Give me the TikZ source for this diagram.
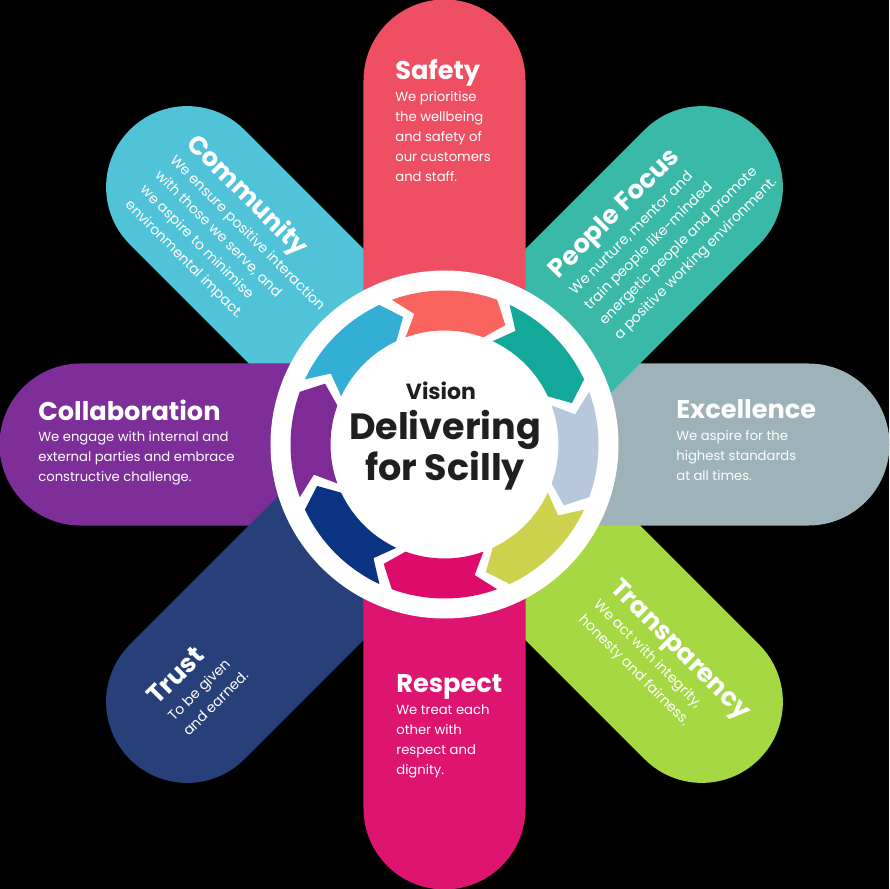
\documentclass[tikz,border=0pt]{standalone}
\usepackage{fontspec}
\setmainfont{Poppins}

\definecolor{safety}{HTML}{EF4F63}
\definecolor{people}{HTML}{3AB9A9}
\definecolor{excellence}{HTML}{9DB2B9}
\definecolor{transparency}{HTML}{A6D843}
\definecolor{respect}{HTML}{DD1470}
\definecolor{trust}{HTML}{28407A}
\definecolor{collaboration}{HTML}{7D2E99}
\definecolor{community}{HTML}{50C3D8}

\definecolor{arrowcoral}{HTML}{F9655E}
\definecolor{arrowteal}{HTML}{12A99A}
\definecolor{arrowsteel}{HTML}{B7C8DC}
\definecolor{arrowolive}{HTML}{CCD24D}
\definecolor{arrowmagenta}{HTML}{DE0B6B}
\definecolor{arrownavy}{HTML}{0A3482}
\definecolor{arrowpurple}{HTML}{7E2B98}
\definecolor{arrowcyan}{HTML}{33AFD6}
\definecolor{hubgrey}{HTML}{1F1F1F}

\newcommand{\petaltitle}[1]{{\fontsize{14.6}{16}\selectfont\bfseries #1}}

\begin{document}
\begin{tikzpicture}[x=0.02cm, y=0.02cm,
	petaltext/.style={text=white, align=left, inner sep=0pt, anchor=north west, font=\fontsize{8}{12}\selectfont},
	straighttext/.style={petaltext, font=\fontsize{7.5}{11.4}\selectfont},
	hubtext/.style={text=hubgrey, anchor=base, inner sep=0pt, font=\bfseries\fontsize{20.8}{22}\selectfont}]
	
	\useasboundingbox (-444.5,-444.5) rectangle (444.5,444.5);
	
	\fill[black] (-444.5,-444.5) rectangle (444.5,444.5);
	
	\fill[community, rotate=45] (-81,0) -- (-81,364) arc[start angle=180, end angle=0, radius=81] -- (81,0) -- cycle;
	
	\fill[transparency, rotate=-135] (-81,0) -- (-81,364) arc[start angle=180, end angle=0, radius=81] -- (81,0) -- cycle;
	
	\fill[collaboration, rotate=90] (-81,0) -- (-81,364) arc[start angle=180, end angle=0, radius=81] -- (81,0) -- cycle;
	
	\fill[excellence, rotate=-90] (-81,0) -- (-81,364) arc[start angle=180, end angle=0, radius=81] -- (81,0) -- cycle;
	
	\fill[trust, rotate=135] (-81,0) -- (-81,364) arc[start angle=180, end angle=0, radius=81] -- (81,0) -- cycle;
	
	\fill[people, rotate=-45] (-81,0) -- (-81,364) arc[start angle=180, end angle=0, radius=81] -- (81,0) -- cycle;
	
	\fill[safety] (-81,0) -- (-81,364) arc[start angle=180, end angle=0, radius=81] -- (81,0) -- cycle;
	
	\fill[respect, rotate=180] (-81,0) -- (-81,364) arc[start angle=180, end angle=0, radius=81] -- (81,0) -- cycle;
	
	\node(safetytext) [straighttext] at (-49.5,385) {\petaltitle{Safety}\\[0.8pt] We prioritise\\ the wellbeing\\ and safety of\\ our customers\\ and staff.};
	
	\node(respecttext) [straighttext] at (-48.5,-230) {\petaltitle{Respect}\\[0.8pt] We treat each\\ other with\\ respect and\\ dignity.};
	
	\node(collaborationtext) [straighttext] at (-406.5,45) {\petaltitle{Collaboration}\\[0.8pt] We engage with internal and\\ external parties and embrace\\ constructive challenge.};
	
	\node(excellencetext) [straighttext] at (231.5,45) {\petaltitle{Excellence}\\[0.8pt] We aspire for the\\ highest standards\\ at all times.};
	
	\node(communitytext) [petaltext, rotate=-45] at (-244.5,314.5) {\petaltitle{Community}\\[1pt] We ensure positive interaction\\ with those we serve, and\\ we aspire to minimise\\ environmental impact.};
	
	\node(peopletext) [petaltext, rotate=45] at (100.5,178.5) {\petaltitle{People Focus}\\[1pt] We nurture, mentor and\\ train people like-minded\\ energetic people and promote\\ a positive working environment.};
	
	\node(transparencytext) [petaltext, rotate=-45] at (177.5,-131.5) {\petaltitle{Transparency}\\[1pt] We act with integrity,\\ honesty and fairness.};
	
	\node(trusttext) [petaltext, rotate=45] at (-300,-248.5) {\petaltitle{Trust}\\[1pt] To be given\\ and earned.};
	
	\fill[white] (0,0) circle (174);
	
	\fill[arrowcoral] (110:154) arc[start angle=110, end angle=70, radius=154] -- (63:134) -- (70:114) arc[start angle=70, end angle=110, radius=114] -- (103:134) -- cycle;
	
	\fill[arrowteal] (65:154) arc[start angle=65, end angle=25, radius=154] -- (18:134) -- (25:114) arc[start angle=25, end angle=65, radius=114] -- (58:134) -- cycle;
	
	\fill[arrowsteel] (20:154) arc[start angle=20, end angle=-20, radius=154] -- (-27:134) -- (-20:114) arc[start angle=-20, end angle=20, radius=114] -- (13:134) -- cycle;
	
	\fill[arrowolive] (-25:154) arc[start angle=-25, end angle=-65, radius=154] -- (-72:134) -- (-65:114) arc[start angle=-65, end angle=-25, radius=114] -- (-32:134) -- cycle;
	
	\fill[arrowmagenta] (-70:154) arc[start angle=-70, end angle=-110, radius=154] -- (-117:134) -- (-110:114) arc[start angle=-110, end angle=-70, radius=114] -- (-77:134) -- cycle;
	
	\fill[arrownavy] (-115:154) arc[start angle=-115, end angle=-155, radius=154] -- (-162:134) -- (-155:114) arc[start angle=-155, end angle=-115, radius=114] -- (-122:134) -- cycle;
	
	\fill[arrowpurple] (200:154) arc[start angle=200, end angle=160, radius=154] -- (153:134) -- (160:114) arc[start angle=160, end angle=200, radius=114] -- (193:134) -- cycle;
	
	\fill[arrowcyan] (155:154) arc[start angle=155, end angle=115, radius=154] -- (108:134) -- (115:114) arc[start angle=115, end angle=155, radius=114] -- (148:134) -- cycle;
	
	\node(vision) [hubtext, font=\bfseries\fontsize{12.5}{14}\selectfont] at (-3.5,44.5) {Vision};
	
	\node(delivering) [hubtext] at (0.5,5) {Delivering};
	
	\node(scilly) [hubtext] at (0.5,-35.5) {for Scilly};
	
\end{tikzpicture}
\end{document}
